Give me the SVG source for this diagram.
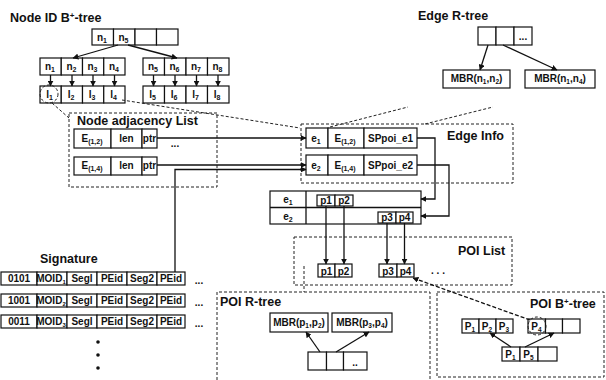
<svg xmlns="http://www.w3.org/2000/svg" width="606" height="380" viewBox="0 0 606 380">
<defs>
<marker id="ah" viewBox="0 0 10 10" refX="9" refY="5" markerWidth="6" markerHeight="6" orient="auto" markerUnits="userSpaceOnUse">
<path d="M0,0 L10,5 L0,10 z" fill="#111"/>
</marker>
<style>
.c{fill:#fff;stroke:#111;stroke-width:1.2}
.t{font-family:"Liberation Sans",Arial,sans-serif;font-weight:bold;font-size:10px;fill:#111;text-anchor:middle}
.h{font-family:"Liberation Sans",Arial,sans-serif;font-weight:bold;font-size:12.5px;fill:#111}
.d{fill:none;stroke:#222;stroke-width:1;stroke-dasharray:3 2}
.a{fill:none;stroke:#111;stroke-width:1.3;marker-end:url(#ah)}
.l{fill:none;stroke:#111;stroke-width:1.3}
</style>
</defs>
<rect width="606" height="380" fill="#fff"/>

<text class="h" x="10" y="22">Node ID  B<tspan dy="-4" font-size="8">+</tspan><tspan dy="4">-tree</tspan></text>
<text class="h" x="418" y="20">Edge R-tree</text>

<g id="nid-root">
<rect class="c" x="92" y="29" width="21.5" height="16"/><rect class="c" x="113.5" y="29" width="21.5" height="16"/><rect class="c" x="135" y="29" width="21.5" height="16"/><rect class="c" x="156.5" y="29" width="21.5" height="16"/>
<text class="t" x="102" y="41">n<tspan dy="2" font-size="7">1</tspan></text>
<text class="t" x="123.5" y="41">n<tspan dy="2" font-size="7">5</tspan></text>
</g>
<g id="nid-left">
<rect class="c" x="40" y="58" width="21.25" height="17"/><rect class="c" x="61.25" y="58" width="21.25" height="17"/><rect class="c" x="82.5" y="58" width="21.25" height="17"/><rect class="c" x="103.75" y="58" width="21.25" height="17"/>
<text class="t" x="50" y="70">n<tspan dy="2" font-size="7">1</tspan></text>
<text class="t" x="71.5" y="70">n<tspan dy="2" font-size="7">2</tspan></text>
<text class="t" x="92.5" y="70">n<tspan dy="2" font-size="7">3</tspan></text>
<text class="t" x="114" y="70">n<tspan dy="2" font-size="7">4</tspan></text>
</g>
<g id="nid-right">
<rect class="c" x="143" y="58" width="21.5" height="17"/><rect class="c" x="164.5" y="58" width="21.5" height="17"/><rect class="c" x="186" y="58" width="21.5" height="17"/><rect class="c" x="207.5" y="58" width="21.5" height="17"/>
<text class="t" x="153" y="70">n<tspan dy="2" font-size="7">5</tspan></text>
<text class="t" x="174.5" y="70">n<tspan dy="2" font-size="7">6</tspan></text>
<text class="t" x="196" y="70">n<tspan dy="2" font-size="7">7</tspan></text>
<text class="t" x="217.5" y="70">n<tspan dy="2" font-size="7">8</tspan></text>
</g>
<g id="nid-leaves-left">
<rect class="c" x="40" y="86" width="21.25" height="17"/><rect class="c" x="61.25" y="86" width="21.25" height="17"/><rect class="c" x="82.5" y="86" width="21.25" height="17"/><rect class="c" x="103.75" y="86" width="21.25" height="17"/>
<text class="t" x="49.5" y="98">l<tspan dy="2" font-size="7">1</tspan></text>
<text class="t" x="71" y="98">l<tspan dy="2" font-size="7">2</tspan></text>
<text class="t" x="92" y="98">l<tspan dy="2" font-size="7">3</tspan></text>
<text class="t" x="113.5" y="98">l<tspan dy="2" font-size="7">4</tspan></text>
<circle class="d" cx="49" cy="94" r="9"/>
</g>
<g id="nid-leaves-right">
<rect class="c" x="143" y="86" width="21.5" height="17"/><rect class="c" x="164.5" y="86" width="21.5" height="17"/><rect class="c" x="186" y="86" width="21.5" height="17"/><rect class="c" x="207.5" y="86" width="21.5" height="17"/>
<text class="t" x="152.5" y="98">l<tspan dy="2" font-size="7">5</tspan></text>
<text class="t" x="174" y="98">l<tspan dy="2" font-size="7">6</tspan></text>
<text class="t" x="195.5" y="98">l<tspan dy="2" font-size="7">7</tspan></text>
<text class="t" x="217" y="98">l<tspan dy="2" font-size="7">8</tspan></text>
</g>

<g id="er-root">
<rect class="c" x="478" y="27" width="18" height="18"/><rect class="c" x="496" y="27" width="18" height="18"/><rect class="c" x="514" y="27" width="18" height="18"/>
<text class="t" x="523" y="40">...</text>
</g>
<g id="er-mbr1">
<rect class="c" x="443" y="70" width="67" height="18"/>
<text class="t" x="476.5" y="82" font-size="9.5">MBR(n<tspan dy="2" font-size="6.5">1</tspan><tspan dy="-2">,n</tspan><tspan dy="2" font-size="6.5">2</tspan><tspan dy="-2">)</tspan></text>
</g>
<g id="er-mbr2">
<rect class="c" x="525" y="70" width="70" height="18"/>
<text class="t" x="560" y="82" font-size="9.5">MBR(n<tspan dy="2" font-size="6.5">1</tspan><tspan dy="-2">,n</tspan><tspan dy="2" font-size="6.5">4</tspan><tspan dy="-2">)</tspan></text>
</g>

<g id="adj-list">
<rect class="d" x="69" y="113" width="148" height="74"/>
<text class="h" x="77" y="125">Node adjacency List</text>
<rect class="c" x="74" y="129" width="37" height="19"/><rect class="c" x="111" y="129" width="31" height="19"/><rect class="c" x="142" y="129" width="15" height="19"/>
<text class="t" x="92" y="142">E<tspan dy="2" font-size="7">(1,2)</tspan></text>
<text class="t" x="126.5" y="142">len</text>
<text class="t" x="149.5" y="142" font-size="9">ptr</text>
<text class="t" x="175" y="147">...</text>
<rect class="c" x="74" y="157" width="37" height="18"/><rect class="c" x="111" y="157" width="31" height="18"/><rect class="c" x="142" y="157" width="15" height="18"/>
<text class="t" x="92" y="169">E<tspan dy="2" font-size="7">(1,4)</tspan></text>
<text class="t" x="126.5" y="169">len</text>
<text class="t" x="149.5" y="169" font-size="9">ptr</text>
</g>

<g id="edge-info">
<rect class="d" x="301" y="124" width="212" height="59"/>
<text class="h" x="447" y="140">Edge Info</text>
<rect class="c" x="306" y="128" width="22" height="20"/><rect class="c" x="328" y="128" width="36" height="20"/><rect class="c" x="364" y="128" width="53" height="20"/>
<text class="t" x="316" y="142">e<tspan dy="2" font-size="7">1</tspan></text>
<text class="t" x="345" y="142">E<tspan dy="2" font-size="7">(1,2)</tspan></text>
<text class="t" x="390.5" y="142" font-size="9.5">SPpoi_e1</text>
<rect class="c" x="306" y="155" width="22" height="20"/><rect class="c" x="328" y="155" width="36" height="20"/><rect class="c" x="364" y="155" width="53" height="20"/>
<text class="t" x="316" y="169">e<tspan dy="2" font-size="7">2</tspan></text>
<text class="t" x="345" y="169">E<tspan dy="2" font-size="7">(1,4)</tspan></text>
<text class="t" x="390.5" y="169" font-size="9.5">SPpoi_e2</text>
</g>

<g id="sp-table">
<rect class="c" x="270" y="191" width="151" height="33"/>
<line class="l" x1="270" y1="207.5" x2="421" y2="207.5" stroke-width="1"/>
<line class="l" x1="306" y1="191" x2="306" y2="224" stroke-width="1"/>
<text class="t" x="288" y="203">e<tspan dy="2" font-size="7">1</tspan></text>
<text class="t" x="288" y="220">e<tspan dy="2" font-size="7">2</tspan></text>
<rect class="c" x="317" y="195" width="18" height="11" stroke-width="1"/><rect class="c" x="335" y="195" width="18" height="11" stroke-width="1"/>
<text class="t" x="326" y="204" font-size="9" font-weight="normal">p1</text>
<text class="t" x="344" y="204" font-size="9" font-weight="normal">p2</text>
<rect class="c" x="378" y="212" width="18" height="11" stroke-width="1"/><rect class="c" x="396" y="212" width="17" height="11" stroke-width="1"/>
<text class="t" x="387" y="221" font-size="9" font-weight="normal">p3</text>
<text class="t" x="404.5" y="221" font-size="9" font-weight="normal">p4</text>
</g>

<g id="poi-list">
<rect class="d" x="294" y="237" width="218" height="48"/>
<text class="h" x="458" y="255">POI List</text>
<rect class="c" x="318" y="264" width="17" height="13"/><rect class="c" x="335" y="264" width="17" height="13"/>
<rect class="c" x="379" y="264" width="18" height="13"/><rect class="c" x="397" y="264" width="17" height="13"/>
<text class="t" x="326.5" y="274.5" font-size="9.5">p1</text>
<text class="t" x="343.5" y="274.5" font-size="9.5">p2</text>
<text class="t" x="388" y="274.5" font-size="9.5">p3</text>
<text class="t" x="405.5" y="274.5" font-size="9.5">p4</text>
<text class="t" x="438" y="274">. . .</text>
</g>

<g id="poi-rtree">
<path class="d" d="M217,380 V292 H430 V380"/>
<text class="h" x="220" y="306">POI R-tree</text>
<rect class="c" x="270" y="313" width="58" height="19"/>
<text class="t" x="299" y="326" font-size="9.5">MBR(p<tspan dy="2" font-size="6.5">1</tspan><tspan dy="-2">,p</tspan><tspan dy="2" font-size="6.5">2</tspan><tspan dy="-2">)</tspan></text>
<rect class="c" x="332" y="313" width="60" height="19"/>
<text class="t" x="362" y="326" font-size="9.5">MBR(p<tspan dy="2" font-size="6.5">3</tspan><tspan dy="-2">,p</tspan><tspan dy="2" font-size="6.5">4</tspan><tspan dy="-2">)</tspan></text>
<rect class="c" x="308" y="352" width="18.5" height="18"/><rect class="c" x="326.5" y="352" width="17" height="18"/><rect class="c" x="343.5" y="352" width="23.5" height="18"/>
<text class="t" x="355" y="366">..</text>
</g>

<g id="poi-bptree">
<rect class="d" x="437" y="292" width="167" height="85"/>
<text class="h" x="530" y="308">POI  B<tspan dy="-4" font-size="8">+</tspan><tspan dy="4">-tree</tspan></text>
<rect class="c" x="462" y="319" width="17" height="14"/><rect class="c" x="479" y="319" width="17" height="14"/><rect class="c" x="496" y="319" width="17" height="14"/>
<text class="t" x="470" y="330" font-size="9.5">P<tspan dy="2" font-size="6.5">1</tspan></text>
<text class="t" x="487" y="330" font-size="9.5">P<tspan dy="2" font-size="6.5">2</tspan></text>
<text class="t" x="504" y="330" font-size="9.5">P<tspan dy="2" font-size="6.5">3</tspan></text>
<rect class="c" x="528" y="319" width="17.5" height="14"/><rect class="c" x="545.5" y="319" width="17" height="14"/><rect class="c" x="562.5" y="319" width="17.5" height="14"/>
<text class="t" x="536.5" y="330" font-size="9.5">P<tspan dy="2" font-size="6.5">4</tspan></text>
<circle class="d" cx="537" cy="326" r="9"/>
<rect class="c" x="502" y="347" width="18" height="14"/><rect class="c" x="520" y="347" width="18" height="14"/><rect class="c" x="538" y="347" width="19" height="14"/>
<text class="t" x="510.5" y="358" font-size="9.5">P<tspan dy="2" font-size="6.5">1</tspan></text>
<text class="t" x="528.5" y="358" font-size="9.5">P<tspan dy="2" font-size="6.5">5</tspan></text>
</g>

<g id="signature">
<text class="h" x="40" y="263">Signature</text>
<rect class="c" x="1" y="272" width="36" height="13"/><rect class="c" x="37" y="272" width="30" height="13"/><rect class="c" x="67" y="272" width="30" height="13"/><rect class="c" x="97" y="272" width="30" height="13"/><rect class="c" x="127" y="272" width="30" height="13"/><rect class="c" x="157" y="272" width="28" height="13"/>
<text class="t" x="19" y="282" font-size="9" font-weight="normal">0101</text>
<text class="t" x="51" y="282" font-size="9" font-weight="normal">MOID<tspan dy="2" font-size="6">1</tspan></text>
<text class="t" x="82" y="282" font-size="9" font-weight="normal">Segl</text>
<text class="t" x="112" y="282" font-size="9" font-weight="normal">PEid</text>
<text class="t" x="142" y="282" font-size="9" font-weight="normal">Seg2</text>
<text class="t" x="171" y="282" font-size="9" font-weight="normal">PEid</text>
<text class="t" x="199" y="284">...</text>
<rect class="c" x="1" y="294" width="36" height="13"/><rect class="c" x="37" y="294" width="30" height="13"/><rect class="c" x="67" y="294" width="30" height="13"/><rect class="c" x="97" y="294" width="30" height="13"/><rect class="c" x="127" y="294" width="30" height="13"/><rect class="c" x="157" y="294" width="28" height="13"/>
<text class="t" x="19" y="304" font-size="9" font-weight="normal">1001</text>
<text class="t" x="51" y="304" font-size="9" font-weight="normal">MOID<tspan dy="2" font-size="6">2</tspan></text>
<text class="t" x="82" y="304" font-size="9" font-weight="normal">Segl</text>
<text class="t" x="112" y="304" font-size="9" font-weight="normal">PEid</text>
<text class="t" x="142" y="304" font-size="9" font-weight="normal">Seg2</text>
<text class="t" x="171" y="304" font-size="9" font-weight="normal">PEid</text>
<text class="t" x="199" y="306">...</text>
<rect class="c" x="1" y="315" width="36" height="13"/><rect class="c" x="37" y="315" width="30" height="13"/><rect class="c" x="67" y="315" width="30" height="13"/><rect class="c" x="97" y="315" width="30" height="13"/><rect class="c" x="127" y="315" width="30" height="13"/><rect class="c" x="157" y="315" width="28" height="13"/>
<text class="t" x="19" y="325" font-size="9" font-weight="normal">0011</text>
<text class="t" x="51" y="325" font-size="9" font-weight="normal">MOID<tspan dy="2" font-size="6">3</tspan></text>
<text class="t" x="82" y="325" font-size="9" font-weight="normal">Segl</text>
<text class="t" x="112" y="325" font-size="9" font-weight="normal">PEid</text>
<text class="t" x="142" y="325" font-size="9" font-weight="normal">Seg2</text>
<text class="t" x="171" y="325" font-size="9" font-weight="normal">PEid</text>
<text class="t" x="199" y="327">...</text>
<circle cx="98" cy="342" r="1.8" fill="#111"/><circle cx="98" cy="355" r="1.8" fill="#111"/><circle cx="98" cy="368" r="1.8" fill="#111"/>
</g>

<g id="connectors">
<line class="a" x1="118" y1="45" x2="73" y2="58"/>
<line class="a" x1="128" y1="45" x2="177" y2="58"/>
<line class="a" x1="50.5" y1="75" x2="50.5" y2="86"/>
<line class="a" x1="72" y1="75" x2="72" y2="86"/>
<line class="a" x1="93" y1="75" x2="93" y2="86"/>
<line class="a" x1="114.5" y1="75" x2="114.5" y2="86"/>
<line class="a" x1="153.5" y1="75" x2="153.5" y2="86"/>
<line class="a" x1="175" y1="75" x2="175" y2="86"/>
<line class="a" x1="196.5" y1="75" x2="196.5" y2="86"/>
<line class="a" x1="218" y1="75" x2="218" y2="86"/>
<line class="a" x1="488" y1="45" x2="480" y2="70"/>
<line class="a" x1="503" y1="45" x2="557" y2="70"/>
<line class="a" x1="157" y1="138" x2="306" y2="138"/>
<line class="a" x1="157" y1="165" x2="306" y2="165"/>
<path class="a" d="M175,272 V169.5 H306"/>
<path class="a" d="M417,138 H435 V199 H421"/>
<path class="a" d="M417,165 H449 V216 H421"/>
<line class="a" x1="326" y1="206" x2="326" y2="264"/>
<line class="a" x1="344" y1="206" x2="344" y2="264"/>
<line class="a" x1="387" y1="223" x2="387" y2="264"/>
<line class="a" x1="404.5" y1="223" x2="404.5" y2="264" stroke-width="0.9"/>
<line class="a" x1="320" y1="352" x2="306" y2="332"/>
<line class="a" x1="336" y1="352" x2="369" y2="332"/>
<line class="a" x1="511" y1="347" x2="490" y2="333"/>
<line class="a" x1="525" y1="347" x2="554" y2="333"/>
<line class="a" x1="530" y1="320" x2="413" y2="278" stroke-dasharray="4 2" stroke-width="1.2"/>
<line class="d" x1="52" y1="103" x2="69" y2="118"/>
<line class="d" x1="122" y1="100" x2="300" y2="128"/>
<line class="d" x1="330" y1="127" x2="408" y2="107"/>
<line class="d" x1="425" y1="124" x2="493" y2="107"/>
<line class="d" x1="304" y1="266" x2="304" y2="292"/>
</g>
</svg>
